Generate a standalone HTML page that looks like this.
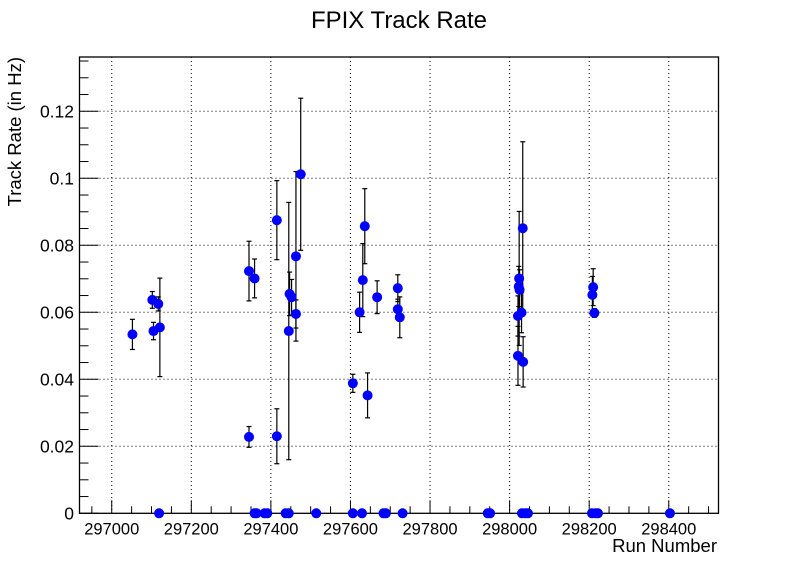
<!DOCTYPE html>
<html><head><meta charset="utf-8"><style>
html,body{margin:0;padding:0;background:#fff;}
svg{display:block;font-family:"Liberation Sans",Arial,sans-serif;}
</style></head><body>
<svg id="chart" width="798" height="571" viewBox="0 0 798 571">
<rect x="0" y="0" width="798" height="571" fill="#fff"/>
<text x="399" y="28" font-size="24" text-anchor="middle">FPIX Track Rate</text>
<text transform="translate(21,57) rotate(-90)" font-size="18.5" text-anchor="end">Track Rate (in Hz)</text>
<text x="717" y="552" font-size="18.5" text-anchor="end">Run Number</text>
<g id="grid"></g>
<g id="axes"></g>
<g id="marks"></g>
</svg>
<script>
const runs = [297052,297102,297105,297117,297121,297345,297359,297345,297415,297415,297445,297447,297452,297463,297463,297475,
 297606,297623,297631,297636,297643,297667,297719,297719,297724,
 298021,298021,298024,298023,298025,298030,298033,298034,298210,298208,298213];
const rates = [0.0534,0.0637,0.0544,0.0625,0.0555,0.0723,0.0701,0.0228,0.0875,0.0230,0.0544,0.0655,0.0645,0.0595,0.0767,0.1012,
 0.0388,0.0600,0.0696,0.0857,0.0352,0.0645,0.0672,0.0609,0.0585,
 0.0589,0.0470,0.0701,0.0677,0.0667,0.0599,0.0851,0.0452,0.0675,0.0652,0.0598];
const errors = [0.0045,0.0025,0.0026,0.0021,0.0147,0.0089,0.0058,0.0031,0.0118,0.0082,0.0384,0.0065,0.0053,0.0042,0.0253,0.0227,
 0.0027,0.0060,0.0109,0.0112,0.0067,0.0049,0.0040,0.0030,0.0061,
 0.0060,0.0088,0.0200,0.0060,0.0060,0.0060,0.0258,0.0075,0.0055,0.0055,0.0013];
const zeroRuns = [297119,297359,297364,297384,297391,297437,297445,297514,297606,297629,297683,297689,297731,297945,297951,298031,298039,298046,298207,298216,298222,298403];
const xTicks = [297000,297200,297400,297600,297800,298000,298200,298400];
const yTicks = [0,0.02,0.04,0.06,0.08,0.1,0.12];
const yTickLabels = ["0","0.02","0.04","0.06","0.08","0.1","0.12"];

const L=79.5,R=718.5,T=57,B=513.3;
const xMin=296919,xMax=298525,yMin=0,yMax=0.1362;
const X=v=>L+(v-xMin)/(xMax-xMin)*(R-L);
const Y=v=>B-(v-yMin)/(yMax-yMin)*(B-T);
const NS="http://www.w3.org/2000/svg";
function mk(tag,attrs,parent){const e=document.createElementNS(NS,tag);for(const k in attrs)e.setAttribute(k,attrs[k]);parent.appendChild(e);return e;}
const grid=document.getElementById('grid'),axes=document.getElementById('axes'),marks=document.getElementById('marks');

xTicks.forEach(v=>{const l=mk('line',{x1:X(v),x2:X(v),y1:T,y2:B,stroke:'#000','stroke-width':1,'stroke-dasharray':'1,3'},grid);

});
yTicks.forEach(v=>{if(v===0)return;const l=mk('line',{x1:L,x2:R,y1:Y(v),y2:Y(v),stroke:'#000','stroke-width':1,'stroke-dasharray':'1,3'},grid);

});

const frame=mk('rect',{x:L,y:T,width:R-L,height:B-T,fill:'none',stroke:'#000','stroke-width':1.3},axes);



for(let v=296950;v<=xMax;v+=50){const major=(v%200===0);
 const t=mk('line',{x1:X(v),x2:X(v),y1:B,y2:B-(major?13:7),stroke:'#000','stroke-width':1},axes);
 
 }
xTicks.forEach(v=>{const t=mk('text',{x:X(v),y:B+21,'font-size':16.5,'text-anchor':'middle'},axes);t.textContent=String(v);
 
 });
for(let i=0;i*0.005<=yMax+1e-9;i++){const v=i*0.005;const major=(i%4===0);
 const t=mk('line',{x1:L,x2:L+(major?19:9),y1:Y(v),y2:Y(v),stroke:'#000','stroke-width':1},axes);
 
 }
yTicks.forEach((v,i)=>{const t=mk('text',{x:74,y:Y(v)+6,'font-size':17.5,'text-anchor':'end'},axes);t.textContent=yTickLabels[i];
 
 });

runs.forEach((r,i)=>{const x=X(r),y1=Y(rates[i]+errors[i]),y2=Y(Math.max(0,rates[i]-errors[i]));
 const g=mk('g',{},marks);
 
 
 mk('line',{x1:x,x2:x,y1:y1,y2:y2,stroke:'#000','stroke-width':1.2},g);
 mk('line',{x1:x-2.5,x2:x+2.5,y1:y1,y2:y1,stroke:'#000','stroke-width':1.2},g);
 mk('line',{x1:x-2.5,x2:x+2.5,y1:y2,y2:y2,stroke:'#000','stroke-width':1.2},g);});
runs.forEach((r,i)=>{const c=mk('circle',{cx:X(r),cy:Y(rates[i]),r:5,fill:'#0000ff'},marks);
 
 });
zeroRuns.forEach(r=>{const c=mk('circle',{cx:X(r),cy:Y(0),r:5,fill:'#0000ff'},marks);
 
 });
</script>
</body></html>
